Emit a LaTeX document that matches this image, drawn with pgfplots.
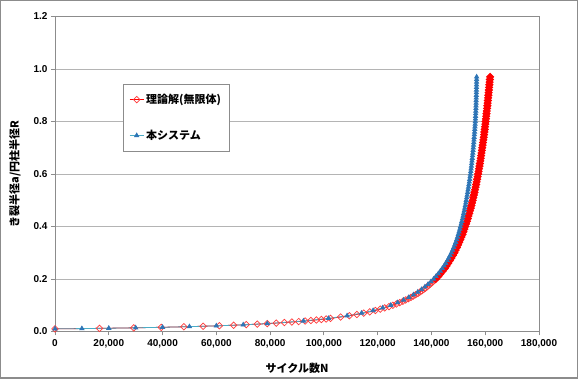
\documentclass[border=0pt]{standalone}
\usepackage{pgfplots}
\pgfplotsset{compat=1.18}
\usepackage{fontspec}
\setmainfont{Liberation Sans}
\newfontfamily\jp{Noto Sans CJK JP}
\definecolor{gridgray}{HTML}{B4B4B4}
\definecolor{axgray}{HTML}{8C8C8C}
\definecolor{sysline}{HTML}{4BACC6}
\definecolor{sysmark}{HTML}{2E75B6}
\definecolor{redmark}{HTML}{FF3A3A}

\pgfplotstableread{
N a
0 0.010
16528 0.012
29291 0.014
39523 0.016
47959 0.018
55065 0.020
61156 0.022
66449 0.024
71103 0.026
75239 0.028
78942 0.030
82285 0.032
85321 0.034
88094 0.036
90640 0.038
92989 0.040
95162 0.042
97182 0.044
99066 0.046
100828 0.048
102480 0.050
106202 0.055
109436 0.060
112278 0.065
114805 0.070
117067 0.075
119109 0.080
120962 0.085
122657 0.090
124212 0.095
125647 0.100
126973 0.105
128208 0.110
129358 0.115
130435 0.120
131444 0.125
132394 0.130
133287 0.135
134133 0.140
134932 0.145
135691 0.150
136411 0.155
137098 0.160
137750 0.165
138375 0.170
138971 0.175
139542 0.180
140087 0.185
140613 0.190
141117 0.195
141600 0.200
}\theorylow

\pgfplotstableread{
N a
141600 0.20
142514 0.21
143365 0.22
144156 0.23
144899 0.24
145594 0.25
146247 0.26
146862 0.27
147444 0.28
147996 0.29
148518 0.30
149015 0.31
149488 0.32
149937 0.33
150367 0.34
150777 0.35
151170 0.36
151547 0.37
151908 0.38
152254 0.39
152589 0.40
152909 0.41
153218 0.42
153516 0.43
153804 0.44
154080 0.45
154349 0.46
154609 0.47
154860 0.48
155102 0.49
155338 0.50
155566 0.51
155789 0.52
156005 0.53
156213 0.54
156417 0.55
156613 0.56
156806 0.57
156993 0.58
157176 0.59
157353 0.60
157526 0.61
157694 0.62
157858 0.63
158019 0.64
158177 0.65
158329 0.66
158479 0.67
158626 0.68
158770 0.69
158909 0.70
159045 0.71
159180 0.72
159311 0.73
159438 0.74
159564 0.75
159688 0.76
159808 0.77
159926 0.78
160041 0.79
160156 0.80
160268 0.81
160378 0.82
160484 0.83
160590 0.84
160692 0.85
160795 0.86
160894 0.87
160993 0.88
161089 0.89
161184 0.90
161276 0.91
161368 0.92
161458 0.93
161547 0.94
161635 0.95
161720 0.96
161805 0.97
}\theoryhigh

\pgfplotstableread{
N a
0 0.0100
10000 0.0111
20000 0.0125
30000 0.0141
40000 0.0161
50000 0.0185
60000 0.0216
70000 0.0255
78942 0.03
92389 0.04
101680 0.05
108636 0.06
114005 0.07
118309 0.08
121857 0.09
124847 0.10
127408 0.11
129635 0.12
131594 0.13
133333 0.14
134891 0.15
136298 0.16
137575 0.17
138742 0.18
139813 0.19
140800 0.20
141694 0.21
142525 0.22
143296 0.23
144019 0.24
144694 0.25
145307 0.26
145882 0.27
146424 0.28
146936 0.29
147418 0.30
147855 0.31
148268 0.32
148657 0.33
149027 0.34
149377 0.35
149690 0.36
149987 0.37
150268 0.38
150534 0.39
150789 0.40
151049 0.41
151298 0.42
151536 0.43
151764 0.44
151980 0.45
152189 0.46
152389 0.47
152580 0.48
152762 0.49
152938 0.50
153116 0.51
153289 0.52
153455 0.53
153613 0.54
153767 0.55
153923 0.56
154076 0.57
154223 0.58
154366 0.59
154503 0.60
154626 0.61
154744 0.62
154858 0.63
154969 0.64
155077 0.65
155179 0.66
155279 0.67
155376 0.68
155470 0.69
155559 0.70
155645 0.71
155730 0.72
155811 0.73
155888 0.74
155964 0.75
156038 0.76
156108 0.77
156176 0.78
156241 0.79
156306 0.80
156358 0.81
156408 0.82
156454 0.83
156500 0.84
156542 0.85
156575 0.86
156604 0.87
156633 0.88
156659 0.89
156684 0.90
156706 0.91
156728 0.92
156748 0.93
156767 0.94
156785 0.95
156795 0.96
156805 0.97
}\system

\begin{document}
\begin{tikzpicture}
\begin{axis}[
  scale only axis, width=484pt, height=315pt,
  xmin=0, xmax=180000, ymin=0, ymax=1.2,
  xtick={0,20000,40000,60000,80000,100000,120000,140000,160000,180000},
  ytick={0,0.2,0.4,0.6,0.8,1.0,1.2},
  scaled x ticks=false, scaled y ticks=false,
  xticklabel style={/pgf/number format/.cd, fixed, 1000 sep={,}},
  yticklabel style={/pgf/number format/.cd, fixed, fixed zerofill, precision=1},
  /pgf/number format/assume math mode=true,
  ticklabel style={font=\bfseries\fontsize{10}{12}\selectfont},
  tick align=outside, major tick length=4pt, xtick pos=bottom, ytick pos=left,
  tick style={axgray, line width=0.8pt},
  axis line style={axgray, line width=0.8pt},
  ymajorgrids, grid style={gridgray, line width=0.8pt},
  xlabel={\jp\bfseries サイクル数N}, ylabel={\jp\bfseries き裂半径a/円柱半径R},
  label style={font=\fontsize{11}{13}\selectfont},
  xlabel style={at={(axis description cs:0.5,-0.116)}, anchor=center},
  ylabel style={at={(axis description cs:-0.083,0.5)}, anchor=center},
  clip=false,
  legend style={at={(axis description cs:0.1405,0.7857)}, anchor=north west,
    draw=axgray, fill=white, font=\jp\bfseries\fontsize{11}{13}\selectfont,
    inner xsep=6pt, inner ysep=8pt, row sep=21pt, cells={anchor=west}},
  legend image code/.code={\draw[mark repeat=2, mark phase=2] plot coordinates {(0cm,0cm) (0.25cm,0cm) (0.5cm,0cm)};},
]
\addplot[red, line width=0.8pt, mark=square, mark size=2.3pt,
  mark options={rotate=45, draw=redmark, fill=white, line width=0.7pt}]
  table[x=N, y=a] {\theorylow};
\addlegendentry{理論解(無限体)}
\addplot[red, line width=0.8pt, mark=square*, mark size=2.6pt, forget plot,
  mark options={rotate=45, draw=red, fill=red, line width=0.7pt}]
  table[x=N, y=a] {\theoryhigh};
\addplot[sysline, line width=0.8pt, mark=triangle*, mark size=2.4pt,
  mark options={draw=sysmark, fill=sysmark}]
  table[x=N, y=a] {\system};
\addlegendentry{本システム}
\end{axis}
\draw[color=axgray, line width=1.5pt] (-54.25pt,-46.5pt) rectangle (522.5pt,330.75pt);
\pgfresetboundingbox
\path[use as bounding box] (-55pt,-47.5pt) rectangle (525pt,331.5pt);
\end{tikzpicture}
\end{document}
